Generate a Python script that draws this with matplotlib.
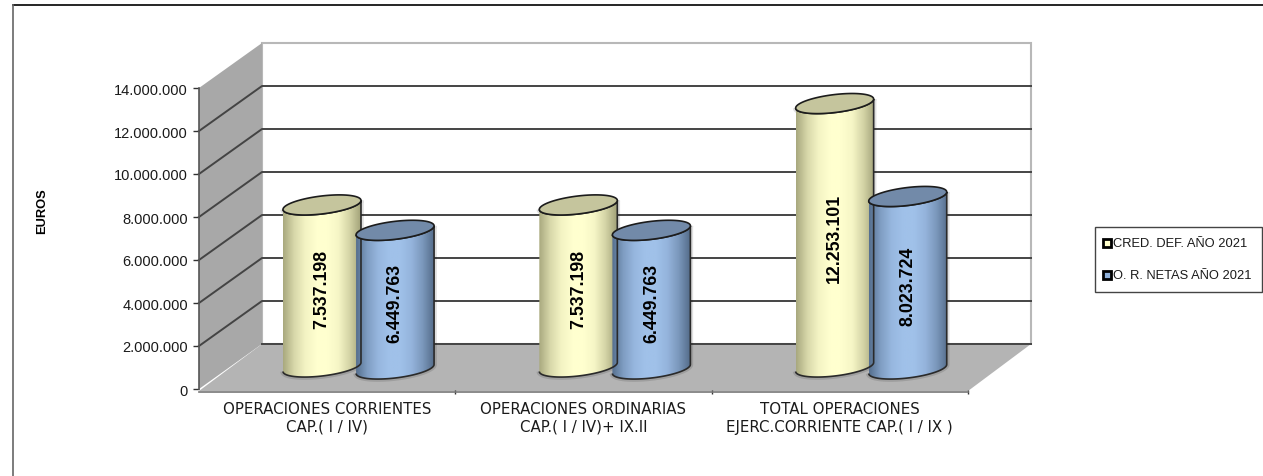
import numpy as np
import matplotlib
matplotlib.use('Agg')
import matplotlib.pyplot as plt
from matplotlib.colors import LinearSegmentedColormap
from matplotlib.lines import Line2D
from matplotlib.patches import PathPatch, Polygon, Rectangle
from matplotlib.path import Path

categories = ['OPERACIONES CORRIENTES\nCAP.( I / IV)',
	'OPERACIONES ORDINARIAS\nCAP.( I / IV)+ IX.II',
	'TOTAL OPERACIONES\nEJERC.CORRIENTE CAP.( I / IX )']
series_names = ['CRED. DEF. AÑO 2021', 'O. R. NETAS AÑO 2021']
cred_def = [7537198, 7537198, 12253101]
or_netas = [6449763, 6449763, 8023724]
cred_labels = ['7.537.198', '7.537.198', '12.253.101']
or_labels = ['6.449.763', '6.449.763', '8.023.724']
y_ticks = [0, 2000000, 4000000, 6000000, 8000000, 10000000, 12000000, 14000000]
y_tick_labels = ['0', '2.000.000', '4.000.000', '6.000.000', '8.000.000',
	'10.000.000', '12.000.000', '14.000.000']

W, H = 1263, 477
LEFT, RIGHT, TOP, BOTTOM = 199, 968, 89, 390
FONT = 'Liberation Sans'
TEXT = '#1a1a1a'

# data units per screen pixel on each axis
PX_X = 3 / (RIGHT - LEFT)
PX_Y = 14000000 / (BOTTOM - TOP)
DEPTH_X = 63 * PX_X
DEPTH_Y = 45 * PX_Y

def draw_cylinder(ax, cx, lift, value, colors, top_color):
	a = 39 * PX_X
	b = 9 * PX_Y
	k = 4.5 * PX_Y
	y0 = lift * PX_Y
	y1 = y0 + value
	t = np.linspace(0, np.pi, 60)

	# side of the cylinder: lower arc of the base, then back over the top edge
	xs = np.r_[cx - a * np.cos(t), cx + a * np.cos(t)]
	ys = np.r_[y0 - b * np.sin(t) - k * np.cos(t), y1 - b * np.sin(t) + k * np.cos(t)]
	body = Path(np.c_[xs, ys])
	# faint halo gives the soft shadow round each column
	ax.add_patch(PathPatch(body, fc='none', ec='black', alpha=0.12, lw=4, zorder=3, clip_on=False))
	cmap = LinearSegmentedColormap.from_list('body', colors)
	im = ax.imshow(np.linspace(0, 1, 128).reshape(1, -1), cmap=cmap, aspect='auto',
		extent=(cx - a, cx + a, y0 - 2 * b, y1 + 2 * b), zorder=4)
	im.set_clip_path(PathPatch(body, transform=ax.transData))
	ax.add_patch(PathPatch(body, fc='none', ec='#2a2a2a', lw=1.2, zorder=5, clip_on=False))

	t = np.linspace(0, 2 * np.pi, 120)
	lid = np.c_[cx + a * np.cos(t), y1 + b * np.sin(t) + k * np.cos(t)]
	ax.add_patch(Polygon(lid, closed=True, fc=top_color, ec='#1c1c1c', lw=1.2, zorder=6, clip_on=False))

def draw_legend(fig):
	fig.add_artist(Rectangle((1095 / W, 1 - 293 / H), 167 / W, 65 / H, transform=fig.transFigure,
		fc='white', ec='#444444', lw=1))
	for name, col, y in zip(series_names, ['#ffffcc', '#8fb0da'], [244, 276]):
		fig.add_artist(Line2D([1107 / W], [1 - y / H], ls='none', marker='s', ms=6, mfc=col, mec='black', mew=2))
		fig.text(1113 / W, 1 - y / H, name, ha='left', va='center', family=FONT, fontsize=9.3, color=TEXT)

def main():
	fig = plt.figure(figsize=(W / 100, H / 100), dpi=100)
	ax = fig.add_axes([LEFT / W, 1 - BOTTOM / H, (RIGHT - LEFT) / W, (BOTTOM - TOP) / H])
	ax.patch.set_visible(False)

	# chart frame
	fig.add_artist(Line2D([13 / W, 1], [1 - 6 / H, 1 - 6 / H], color='black', lw=1.2))
	fig.add_artist(Line2D([13 / W, 13 / W], [0, 1 - 6 / H], color='#666666', lw=1.2))

	# back wall, side wall and floor
	top = 14000000
	low = -2 * PX_Y
	ax.add_patch(Polygon([(DEPTH_X, DEPTH_Y), (DEPTH_X, top + DEPTH_Y), (3 + DEPTH_X, top + DEPTH_Y), (3 + DEPTH_X, DEPTH_Y)],
		fc='white', ec='#b8b8b8', lw=1.5, zorder=1, clip_on=False))
	ax.add_patch(Polygon([(0, 0), (DEPTH_X, DEPTH_Y), (DEPTH_X, top + DEPTH_Y), (0, top)],
		fc='#a8a8a8', ec='none', zorder=1, clip_on=False))
	ax.add_patch(Polygon([(0, low), (DEPTH_X, DEPTH_Y), (3 + DEPTH_X, DEPTH_Y), (3, low)],
		fc='#b4b4b4', ec='none', zorder=1, clip_on=False))

	# grid lines run across the side wall and the back wall
	for v in y_ticks[1:-1]:
		ax.plot([0, DEPTH_X, 3 + DEPTH_X], [v, v + DEPTH_Y, v + DEPTH_Y], color='#444444', lw=1.4, zorder=2, clip_on=False)
	ax.plot([DEPTH_X, 3 + DEPTH_X], [DEPTH_Y, DEPTH_Y], color='#444444', lw=1.4, zorder=2, clip_on=False)

	yellow = ['#a9a97f', '#d8d8aa', '#f4f4c4', '#ffffcf', '#ffffcf', '#f6f6c6', '#d4d4a6', '#a3a37a']
	blue = ['#56708f', '#7f9dc2', '#97b7df', '#a0c1e9', '#a0c1e9', '#95b4dc', '#7b98bc', '#566e8c']

	for i in range(3):
		c = i + 0.5 + DEPTH_X / 2
		x_cred = c - 0.147 + 1 * PX_X
		x_or = c + 0.142
		draw_cylinder(ax, x_cred, 22, cred_def[i], yellow, '#c5c59d')
		draw_cylinder(ax, x_or, 20, or_netas[i], blue, '#728aa9')
		ax.text(x_cred, (22 - 2) * PX_Y + cred_def[i] / 2, cred_labels[i], rotation=90, ha='center', va='center',
			family=FONT, fontweight='bold', fontsize=12.8, color='black', zorder=7)
		ax.text(x_or, (20 - 3) * PX_Y + or_netas[i] / 2, or_labels[i], rotation=90, ha='center', va='center',
			family=FONT, fontweight='bold', fontsize=12.8, color='black', zorder=7)

	ax.set_xlim(0, 3)
	ax.set_ylim(0, 14000000)
	ax.set_yticks(y_ticks)
	ax.set_yticklabels(y_tick_labels, family=FONT, fontsize=10.5, color=TEXT)
	ax.set_xticks([1, 2, 3])
	ax.set_xticklabels([])
	ax.set_xticks([0.5, 1.5, 2.5], minor=True)
	ax.set_xticklabels(categories, minor=True)
	ax.tick_params(axis='x', which='minor', length=0, pad=7, labelsize=10.8, labelcolor=TEXT)
	for lbl in ax.get_xticklabels(minor=True):
		lbl.set_fontfamily(FONT)
		lbl.set_linespacing(0.9)
	ax.tick_params(axis='x', which='major', length=3, width=1, color='#333333', direction='inout')
	ax.tick_params(axis='y', length=4, width=1, color='#333333', pad=4)
	for s in ['top', 'right']:
		ax.spines[s].set_visible(False)
	ax.spines['left'].set_color('#555555')
	ax.spines['left'].set_linewidth(1.2)
	ax.spines['bottom'].set_color('#777777')
	ax.spines['bottom'].set_linewidth(1.2)
	ax.spines['bottom'].set_position(('outward', 2))

	fig.text(42 / W, 1 - 211 / H, 'EUROS', rotation=90, ha='center', va='center',
		family=FONT, fontweight='bold', fontsize=9.3, color='black')

	draw_legend(fig)

	fig.savefig('out.png', dpi=100)

if __name__ == '__main__':
	main()
